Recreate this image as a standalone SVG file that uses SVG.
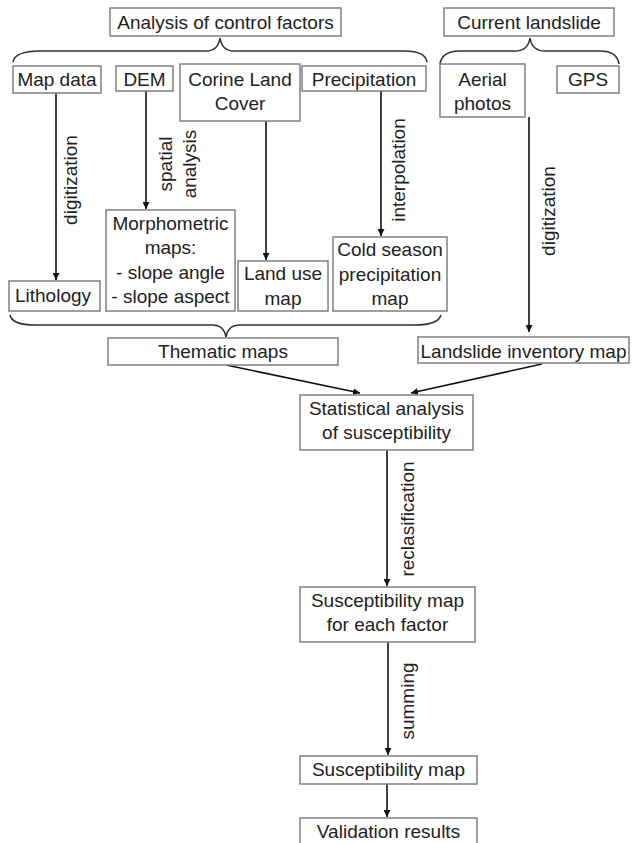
<svg xmlns="http://www.w3.org/2000/svg" width="632" height="843" viewBox="0 0 632 843">
<defs>
<marker id="ah" viewBox="0 0 10 10" refX="10" refY="5" markerWidth="7" markerHeight="7" markerUnits="userSpaceOnUse" orient="auto">
<path d="M0,0 L10,5 L0,10 z" fill="#111"/>
</marker>
<style>
.box{fill:#fff;stroke:#808080;stroke-width:1.5}
.t{font-family:"Liberation Sans",Arial,sans-serif;font-size:19px;fill:#222;text-anchor:middle}
.c{fill:none;stroke:#111;stroke-width:1.6}
.a{marker-end:url(#ah)}
.br{fill:none;stroke:#333;stroke-width:1.6}
</style>
</defs>
<rect width="632" height="843" fill="#fff"/>

<g id="connectors">
<path class="br" d="M13,62 Q15,51 40,51 L206,51 Q218,51 220,38 Q222,51 234,51 L405,51 Q425,51 427,62"/>
<path class="br" d="M440,64 Q442,51 460,51 L515,51 Q528,51 530,38 Q532,51 545,51 L600,51 Q617,51 619,64"/>
<path class="br" d="M10,315 Q12,325 35,325 L212,325 Q224,325 226,337 Q228,325 240,325 L415,325 Q438,325 441,315"/>
<line class="c a" x1="56" y1="93" x2="56" y2="280"/>
<line class="c a" x1="146" y1="91" x2="146" y2="209"/>
<line class="c a" x1="266" y1="121" x2="266" y2="260"/>
<line class="c a" x1="381" y1="91" x2="381" y2="236"/>
<line class="c a" x1="529" y1="117" x2="529" y2="332"/>
<line class="c a" x1="226" y1="365" x2="360" y2="393"/>
<line class="c a" x1="542" y1="364" x2="411" y2="393"/>
<line class="c a" x1="387" y1="450" x2="387" y2="586"/>
<line class="c a" x1="388" y1="642" x2="388" y2="755"/>
<line class="c a" x1="387" y1="784" x2="387" y2="817"/>
<text class="t" transform="translate(77,180) rotate(-90)">digitization</text>
<text class="t" transform="translate(172,164) rotate(-90)">spatial</text>
<text class="t" transform="translate(196,164) rotate(-90)">analysis</text>
<text class="t" transform="translate(405,170) rotate(-90)">interpolation</text>
<text class="t" transform="translate(555,211) rotate(-90)">digitization</text>
<text class="t" transform="translate(414,519) rotate(-90)">reclasification</text>
<text class="t" transform="translate(414,701) rotate(-90)">summing</text>
</g>

<g id="analysis">
<rect class="box" x="110" y="8" width="231" height="28"/>
<text class="t" x="225.5" y="29">Analysis of control factors</text>
</g>
<g id="current">
<rect class="box" x="444" y="8" width="170" height="28"/>
<text class="t" x="529" y="29">Current landslide</text>
</g>
<g id="mapdata">
<rect class="box" x="13" y="66" width="88" height="27"/>
<text class="t" x="57" y="86">Map data</text>
</g>
<g id="dem">
<rect class="box" x="116" y="66" width="57" height="25"/>
<text class="t" x="144.5" y="86">DEM</text>
</g>
<g id="corine">
<rect class="box" x="180" y="64" width="120" height="57"/>
<text class="t" x="240" y="86">Corine Land</text>
<text class="t" x="240" y="110">Cover</text>
</g>
<g id="precip">
<rect class="box" x="302" y="66" width="124" height="25"/>
<text class="t" x="364" y="86">Precipitation</text>
</g>
<g id="aerial">
<rect class="box" x="440" y="64" width="85" height="53"/>
<text class="t" x="482.5" y="86">Aerial</text>
<text class="t" x="482.5" y="110">photos</text>
</g>
<g id="gps">
<rect class="box" x="557" y="66" width="62" height="27"/>
<text class="t" x="588" y="86">GPS</text>
</g>
<g id="lithology">
<rect class="box" x="9" y="281" width="91" height="30"/>
<text class="t" x="53" y="302">Lithology</text>
</g>
<g id="morpho">
<rect class="box" x="106" y="210" width="129" height="101"/>
<text class="t" x="170.5" y="230">Morphometric</text>
<text class="t" x="170.5" y="254">maps:</text>
<text class="t" x="170.5" y="279">- slope angle</text>
<text class="t" x="170.5" y="303">- slope aspect</text>
</g>
<g id="landuse">
<rect class="box" x="238" y="261" width="90" height="50"/>
<text class="t" x="283" y="280">Land use</text>
<text class="t" x="283" y="305">map</text>
</g>
<g id="coldseason">
<rect class="box" x="333" y="237" width="114" height="74"/>
<text class="t" x="390" y="256">Cold season</text>
<text class="t" x="390" y="281">precipitation</text>
<text class="t" x="390" y="305">map</text>
</g>
<g id="thematic">
<rect class="box" x="108" y="338" width="230" height="27"/>
<text class="t" x="223" y="358">Thematic maps</text>
</g>
<g id="inventory">
<rect class="box" x="418" y="337" width="211" height="26"/>
<text class="t" x="523.5" y="358">Landslide inventory map</text>
</g>
<g id="statistical">
<rect class="box" x="300" y="395" width="173" height="55"/>
<text class="t" x="386.5" y="415">Statistical analysis</text>
<text class="t" x="386.5" y="439">of susceptibility</text>
</g>
<g id="suscfactor">
<rect class="box" x="300" y="587" width="175" height="55"/>
<text class="t" x="387.5" y="607">Susceptibility map</text>
<text class="t" x="387.5" y="631">for each factor</text>
</g>
<g id="suscmap">
<rect class="box" x="300" y="756" width="177" height="28"/>
<text class="t" x="388.5" y="776">Susceptibility map</text>
</g>
<g id="validation">
<rect class="box" x="300" y="818" width="177" height="30"/>
<text class="t" x="388.5" y="838">Validation results</text>
</g>
</svg>
